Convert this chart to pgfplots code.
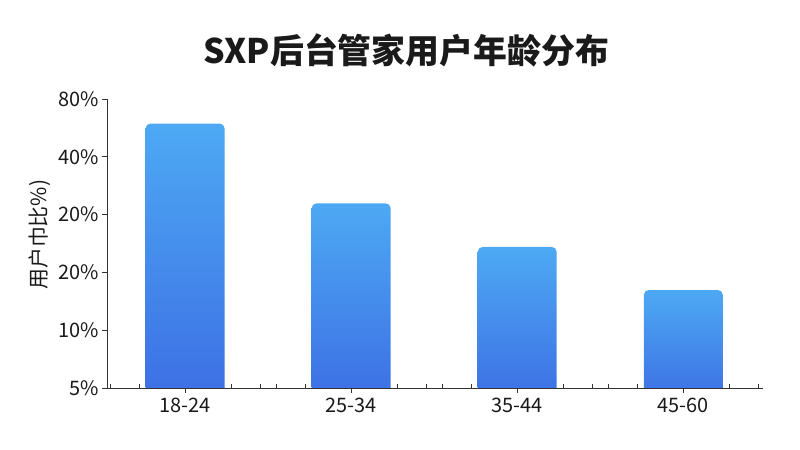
\documentclass[border=0pt]{standalone}
\usepackage{fontspec}
\setmainfont{Noto Sans CJK SC}
\usepackage{pgfplots}
\pgfplotsset{compat=1.18}
\definecolor{barTop}{HTML}{4DA9F3}
\definecolor{barBot}{HTML}{3C6DE4}
\definecolor{axisc}{HTML}{333333}
\definecolor{txt}{HTML}{1A1A1A}
\pgfplotsset{barsty/.style={draw=none, top color=barTop, bottom color=barBot, rounded corners=5bp}}
\begin{document}
\begin{tikzpicture}[x=1bp,y=1bp]
\path[use as bounding box] (0,0) rectangle (800,450);
\node[font=\fontsize{34}{38}\selectfont\bfseries, text=txt] at (406,400) {SXP后台管家用户年龄分布};
\begin{axis}[
  at={(107bp,62bp)}, anchor=south west, scale only axis,
  width=656bp, height=289bp,
  xmin=-0.47, xmax=3.48, ymin=0, ymax=5,
  axis x line=bottom, axis y line=left,
  axis line style={axisc, line width=0.9bp, -},
  xtick={0,1,2,3}, xticklabels={18-24,25-34,35-44,45-60},
  ytick={0,1,2,3,4,5},
  yticklabels={5\%,10\%,20\%,20\%,40\%,80\%},
  tick align=outside, major tick length=5bp,
  tick style={axisc, line width=0.9bp},
  extra x ticks={-0.452,-0.277,0.277,0.452,0.548,0.723,1.277,1.452,1.548,1.723,2.277,2.452,2.548,2.723,3.277,3.452},
  extra x tick labels={},
  extra x tick style={tick align=inside, major tick length=3.5bp},
  ticklabel style={font=\fontsize{20}{24}\selectfont, text=txt},
  xticklabel style={yshift=-2bp},
  ylabel={用户巾比\%)},
  ylabel style={font=\fontsize{21}{24}\selectfont, text=txt, at={(axis description cs:-0.102,0.53)}, anchor=center},
  clip=true,
]
% each bar: left edge, top value, right edge (bar width 0.476 units); base below ymin is clipped
\addplot[barsty] coordinates {(-0.238,-0.3) (-0.238,4.576) (0.238,4.576) (0.238,-0.3)} -- cycle;
\addplot[barsty] coordinates {(0.762,-0.3) (0.762,3.195) (1.238,3.195) (1.238,-0.3)} -- cycle;
\addplot[barsty] coordinates {(1.762,-0.3) (1.762,2.44) (2.238,2.44) (2.238,-0.3)} -- cycle;
\addplot[barsty] coordinates {(2.762,-0.3) (2.762,1.695) (3.238,1.695) (3.238,-0.3)} -- cycle;
\end{axis}
\end{tikzpicture}
\end{document}
